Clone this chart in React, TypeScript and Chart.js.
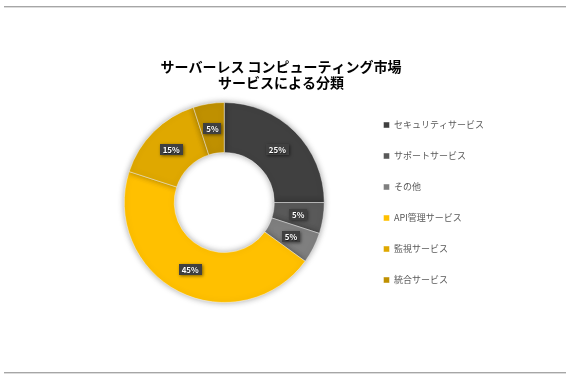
import React, { useEffect, useRef } from "react";
import { Chart, registerables } from "chart.js";

Chart.register(...registerables);

const titleLines = ["サーバーレス コンピューティング市場", "サービスによる分類"];
const categories = ["セキュリティサービス", "サポートサービス", "その他", "API管理サービス", "監視サービス", "統合サービス"];
const shares = [25, 5, 5, 45, 15, 5];
const colors = ["#404040", "#595959", "#7f7f7f", "#ffc000", "#dfa800", "#bf9000"];

const FONT = "'Noto Sans CJK JP', 'Noto Sans', sans-serif";

const framePlugin = {
  id: "frame",
  beforeDraw(chart: any) {
    const ctx = chart.ctx;
    ctx.save();
    ctx.fillStyle = "#ffffff";
    ctx.fillRect(0, 0, chart.width, chart.height);
    ctx.fillStyle = "#a6a6a6";
    ctx.fillRect(4, 6, 562, 1);
    ctx.fillRect(4, 372, 562, 1);
    ctx.fillStyle = "#dcdcdc";
    ctx.fillRect(4, 7, 562, 1);
    ctx.fillRect(4, 373, 562, 1);
    // title
    ctx.fillStyle = "#000000";
    ctx.font = `bold 14px ${FONT}`;
    ctx.textAlign = "center";
    ctx.textBaseline = "middle";
    ctx.fillText(titleLines[0], 281, 67);
    ctx.fillText(titleLines[1], 281, 83);
    ctx.restore();
  },
  beforeDatasetsDraw(chart: any) {
    const ctx = chart.ctx;
    ctx.save();
    ctx.shadowColor = "rgba(0,0,0,0.35)";
    ctx.shadowBlur = 6;
    ctx.shadowOffsetX = 0;
    ctx.shadowOffsetY = 0;
  },
  afterDatasetsDraw(chart: any) {
    const ctx = chart.ctx;
    ctx.restore();
    const meta = chart.getDatasetMeta(0);
    ctx.save();
    ctx.font = `bold 8px ${FONT}`;
    ctx.textAlign = "center";
    ctx.textBaseline = "middle";
    meta.data.forEach((arc: any, i: number) => {
      const { x, y, startAngle, endAngle, innerRadius, outerRadius } = arc.getProps(
        ["x", "y", "startAngle", "endAngle", "innerRadius", "outerRadius"],
        true
      );
      const mid = (startAngle + endAngle) / 2;
      const r = (innerRadius + outerRadius) / 2;
      const cx = x + Math.cos(mid) * r;
      const cy = y + Math.sin(mid) * r;
      const label = shares[i] + "%";
      const w = ctx.measureText(label).width + 6;
      const h = 11;
      ctx.save();
      ctx.shadowColor = "rgba(0,0,0,0.5)";
      ctx.shadowBlur = 3;
      ctx.shadowOffsetX = 1;
      ctx.shadowOffsetY = 1;
      ctx.fillStyle = "#404040";
      ctx.fillRect(Math.round(cx - w / 2), Math.round(cy - h / 2), Math.round(w), h);
      ctx.restore();
      ctx.save();
      ctx.shadowColor = "rgba(0,0,0,0.6)";
      ctx.shadowBlur = 1;
      ctx.shadowOffsetX = 0.5;
      ctx.shadowOffsetY = 0.5;
      ctx.fillStyle = "#ffffff";
      ctx.fillText(label, cx, cy + 0.5);
      ctx.restore();
    });
    ctx.restore();
  },
};

export default function App() {
  const ref = useRef<HTMLCanvasElement | null>(null);
  useEffect(() => {
    document.body.style.margin = "0";
    const chart = new Chart(ref.current as HTMLCanvasElement, {
      type: "doughnut",
      data: {
        labels: categories,
        datasets: [
          {
            data: shares,
            backgroundColor: colors,
            borderColor: "rgba(255,255,255,0.6)",
            borderWidth: 0.75,
          },
        ],
      },
      options: {
        animation: false,
        responsive: false,
        maintainAspectRatio: false,
        cutout: "50%",
        radius: 100,
        layout: { padding: { top: 97, bottom: 73, left: 87, right: 80 } },
        plugins: {
          title: { display: false },
          tooltip: { enabled: false },
          legend: {
            display: true,
            position: "right",
            align: "center",
            labels: {
              boxWidth: 6,
              boxHeight: 6,
              padding: 22,
              color: "#595959",
              font: { size: 9, family: FONT },
            },
          },
        },
      },
      plugins: [framePlugin],
    });
    return () => chart.destroy();
  }, []);
  return (
    <div style={{ position: "absolute", left: 0, top: 0, width: 574, height: 381 }}>
      <canvas ref={ref} width={574} height={381} style={{ width: 574, height: 381 }} />
    </div>
  );
}
